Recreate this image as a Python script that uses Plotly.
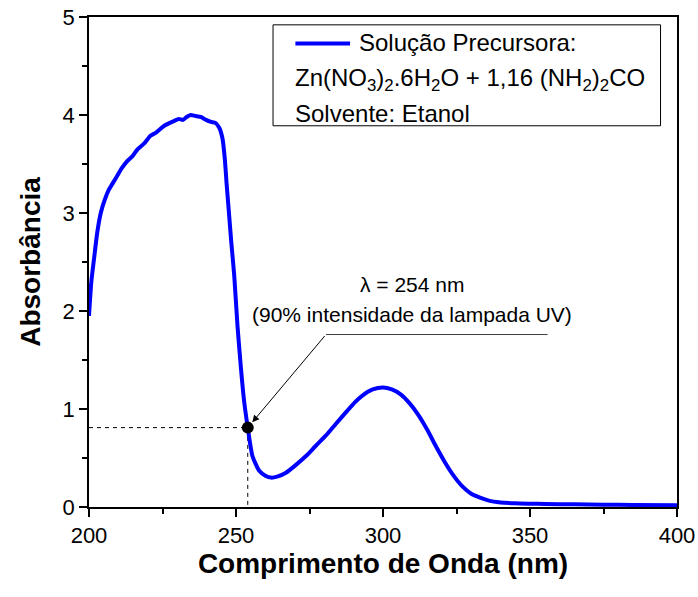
import plotly.graph_objects as go

# UV-Vis spectrum of the precursor solution (ethanol solvent)
wavelength = [200, 200.8, 201.7, 202.8, 204, 205.3, 206.8, 208.2, 209.6, 211.2, 213, 214.8,
              216.5, 218.8, 221, 222.8, 225.6, 227.5, 229, 230.5, 232, 233.2, 234.6, 236.2,
              238, 239.8, 241.5, 243, 244.3, 245.4, 246.2, 246.8, 247.5, 248.4, 249.4, 250.5,
              251.7, 252.8, 254, 255.6, 257.9, 260, 261.9, 264, 267, 270, 273.8, 277, 280.6,
              284, 287.5, 290.5, 293.1, 296.5, 300, 303, 306, 309, 312, 315, 318,
              321, 324, 327, 330, 333, 336, 340, 345, 350, 355, 365, 375, 385, 400]
absorbance = [1.95, 2.3, 2.53, 2.8, 3.0, 3.13, 3.24, 3.31, 3.38, 3.46, 3.53, 3.58,
              3.65, 3.71, 3.79, 3.82, 3.89, 3.92, 3.94, 3.96, 3.95, 3.98, 4.0, 3.99,
              3.98, 3.95, 3.93, 3.92, 3.87, 3.76, 3.55, 3.3, 3.04, 2.7, 2.36, 1.85,
              1.41, 1.07, 0.81, 0.52, 0.37, 0.32, 0.30, 0.31, 0.35, 0.42, 0.52, 0.62, 0.73,
              0.85, 0.97, 1.07, 1.14, 1.2, 1.22, 1.20, 1.15, 1.06, 0.94, 0.79, 0.62,
              0.46, 0.32, 0.21, 0.135, 0.095, 0.065, 0.047, 0.038, 0.034, 0.031, 0.027, 0.024, 0.021, 0.017]

# Lamp reference point (254 nm)
lamp_wl = 254
lamp_abs = 0.81

# Annotation label anchor/underline extent (data units)
label_x = 310
underline_x = [280.6, 356]
underline_y = 1.76

x_ticks = [200, 250, 300, 350, 400]
y_ticks = [0, 1, 2, 3, 4, 5]

FONT = "Liberation Sans, Arial, sans-serif"

fig = go.Figure()

# Dashed guide lines to the lamp point
fig.add_trace(go.Scatter(
    x=[200, lamp_wl, lamp_wl], y=[lamp_abs, lamp_abs, 0],
    mode="lines", line=dict(color="black", width=1, dash="4px,4px"),
    showlegend=False, hoverinfo="skip"))

# Spectrum
fig.add_trace(go.Scatter(
    x=wavelength, y=absorbance, mode="lines",
    line=dict(color="#0000FF", width=4, shape="spline", smoothing=0.6),
    name="Solução Precursora:", showlegend=False))

# Lamp point marker
fig.add_trace(go.Scatter(
    x=[lamp_wl], y=[lamp_abs], mode="markers",
    marker=dict(color="black", size=12),
    showlegend=False, hoverinfo="skip"))

# Underline beneath the label
fig.add_trace(go.Scatter(
    x=underline_x, y=[underline_y, underline_y], mode="lines",
    line=dict(color="#404040", width=1),
    showlegend=False, hoverinfo="skip"))

# Arrow from the label to the lamp point
fig.add_annotation(
    x=lamp_wl, y=lamp_abs, ax=underline_x[0], ay=underline_y,
    xref="x", yref="y", axref="x", ayref="y",
    text="", showarrow=True, arrowhead=2, arrowsize=1.4, arrowwidth=1,
    arrowcolor="black", standoff=7)

fig.add_annotation(
    x=label_x, y=2.27, xref="x", yref="y", text="λ = 254 nm",
    showarrow=False, font=dict(family=FONT, size=21, color="black"))
fig.add_annotation(
    x=label_x, y=1.96, xref="x", yref="y",
    text="(90% intensidade da lampada UV)",
    showarrow=False, font=dict(family=FONT, size=21, color="black"))

# Legend box
fig.add_shape(type="rect", xref="paper", yref="paper",
              x0=0.313, x1=0.972, y0=0.778, y1=0.984,
              line=dict(color="black", width=1), fillcolor="white", layer="below")
fig.add_shape(type="line", xref="paper", yref="paper",
              x0=0.351, x1=0.444, y0=0.946, y1=0.946,
              line=dict(color="#0000FF", width=4))
legend_font = dict(family=FONT, size=24, color="black")
fig.add_annotation(x=0.4555, y=0.947, xref="paper", yref="paper",
                   xanchor="left", yanchor="middle", showarrow=False,
                   text="Solução Precursora:", font=legend_font)
fig.add_annotation(x=0.347, y=0.872, xref="paper", yref="paper",
                   xanchor="left", yanchor="middle", showarrow=False,
                   text="Zn(NO<sub>3</sub>)<sub>2</sub>.6H<sub>2</sub>O + 1,16 (NH<sub>2</sub>)<sub>2</sub>CO",
                   font=legend_font)
fig.add_annotation(x=0.347, y=0.804, xref="paper", yref="paper",
                   xanchor="left", yanchor="middle", showarrow=False,
                   text="Solvente: Etanol", font=legend_font)

axis_common = dict(
    showline=True, linecolor="black", linewidth=1.5, mirror=True,
    ticks="outside", ticklen=8, tickwidth=1.5, tickcolor="black",
    showgrid=False, zeroline=False,
    tickfont=dict(family=FONT, size=22, color="black"),
)

fig.update_xaxes(
    range=[200, 400], tickvals=x_ticks,
    minor=dict(dtick=25, ticks="outside", ticklen=5, tickwidth=1.5, tickcolor="black", showgrid=False),
    title=dict(text="<b>Comprimento de Onda (nm)</b>", standoff=4,
               font=dict(family=FONT, size=28, color="black")),
    **axis_common)
fig.update_yaxes(
    range=[0, 5], tickvals=y_ticks,
    minor=dict(dtick=0.5, ticks="outside", ticklen=5, tickwidth=1.5, tickcolor="black", showgrid=False),
    title=dict(text="<b>Absorbância</b>", standoff=14,
               font=dict(family=FONT, size=28, color="black")),
    **axis_common)

fig.update_layout(
    width=698, height=597,
    margin=dict(l=89, r=21, t=17, b=90, autoexpand=False),
    plot_bgcolor="white", paper_bgcolor="white",
    font=dict(family=FONT, color="black"),
    showlegend=False,
)

fig.write_html("out.html")
